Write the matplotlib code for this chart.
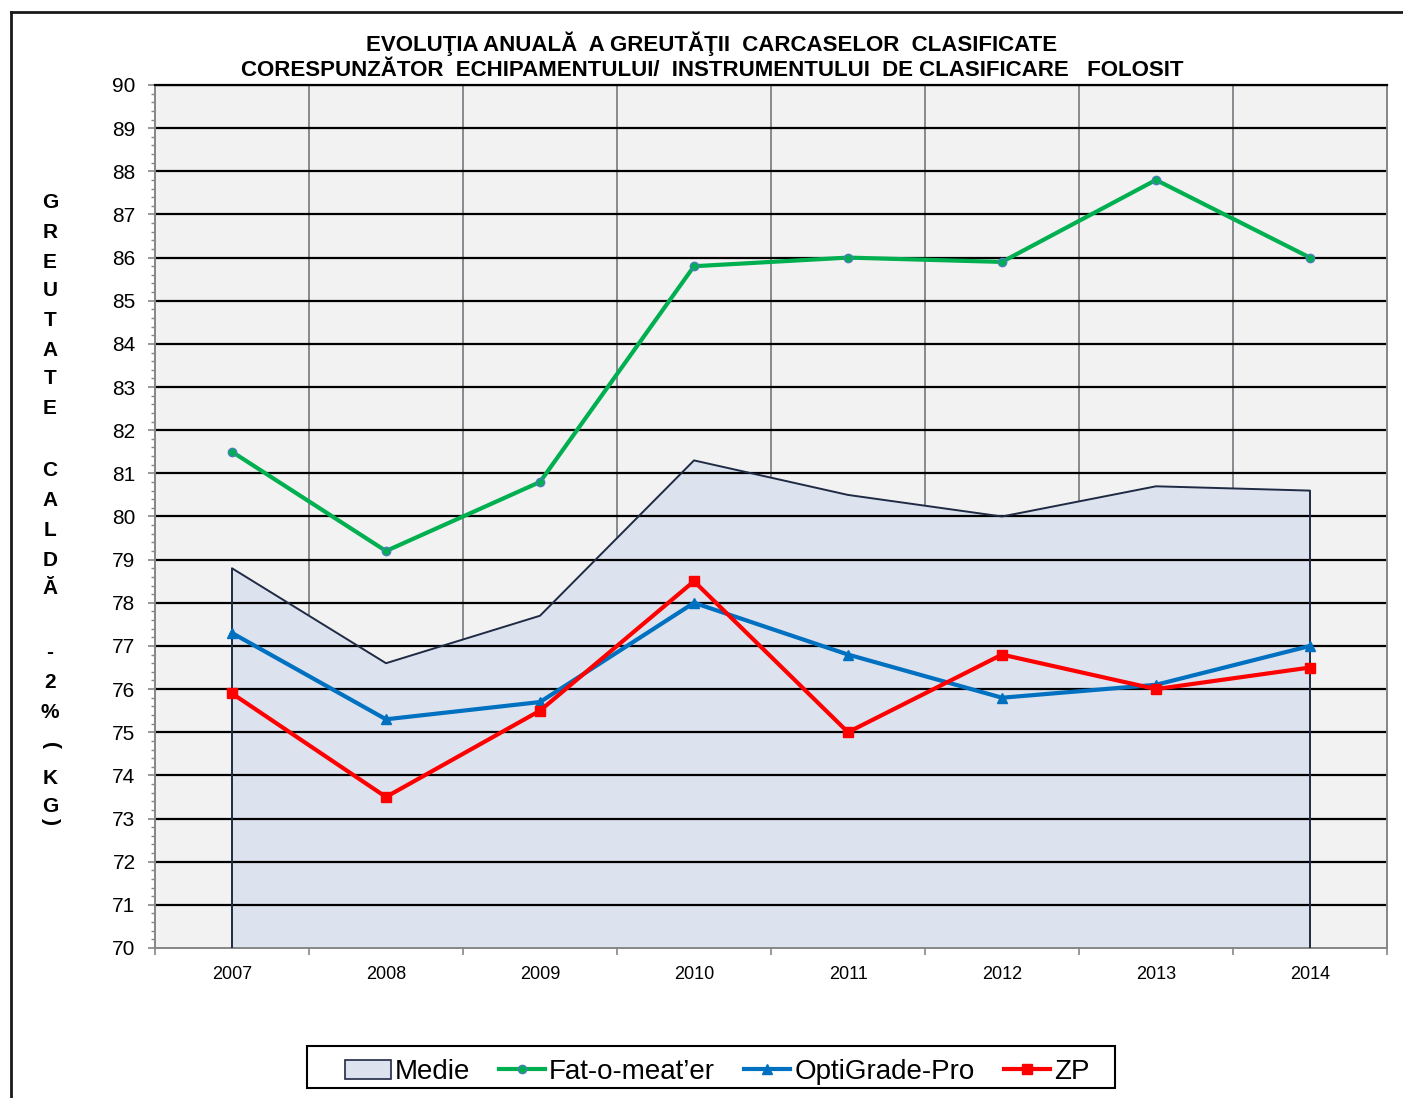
import matplotlib
matplotlib.use("Agg")
import matplotlib.pyplot as plt
from matplotlib.patches import Patch, Rectangle
from matplotlib.lines import Line2D
from matplotlib.ticker import MultipleLocator, FixedLocator, NullFormatter
import numpy as np

plt.rcParams['font.family'] = ['Liberation Sans', 'DejaVu Sans']

years = ['2007', '2008', '2009', '2010', '2011', '2012', '2013', '2014']
medie = [78.8, 76.6, 77.7, 81.3, 80.5, 80.0, 80.7, 80.6]
fat_o_meater = [81.5, 79.2, 80.8, 85.8, 86.0, 85.9, 87.8, 86.0]
optigrade = [77.3, 75.3, 75.7, 78.0, 76.8, 75.8, 76.1, 77.0]
zp = [75.9, 73.5, 75.5, 78.5, 75.0, 76.8, 76.0, 76.5]

title_text = ("EVOLUŢIA ANUALĂ  A GREUTĂŢII  CARCASELOR  CLASIFICATE\n"
              "CORESPUNZĂTOR  ECHIPAMENTULUI/  INSTRUMENTULUI  DE CLASIFICARE   FOLOSIT")
ylabel_chars = ['G', 'R', 'E', 'U', 'T', 'A', 'T', 'E', 'C', 'A', 'L', 'D', 'Ă',
                '-', '2', '%', 'K', 'G']
ylabel_rows = [203, 233, 262, 291, 321, 350, 379, 409, 471, 500, 530, 560, 588,
               652, 682, 712, 778, 807]

W, H = 1403, 1098
fig = plt.figure(figsize=(W / 100, H / 100), dpi=100)
fig.patch.set_facecolor('white')

ax = fig.add_axes([155 / W, 1 - 948 / H, (1387 - 155) / W, (948 - 85) / H])
ax.set_facecolor('#F2F2F2')

x = np.arange(len(years))
ymin, ymax = 70, 90

ax.fill_between(x, ymin, medie, facecolor='#DCE3EF', edgecolor='none', zorder=1.5)
ax.plot(np.concatenate([[x[0]], x, [x[-1]]]), np.concatenate([[ymin], medie, [ymin]]),
        color='#1F2A44', lw=1.4, zorder=2.6)

ax.plot(x, fat_o_meater, color='#00B050', lw=3.0, marker='o', ms=6,
        mfc='#00B050', mec='#4A7EBB', mew=1.0, zorder=4)
ax.plot(x, optigrade, color='#0070C0', lw=3.0, marker='^', ms=7,
        mfc='#0070C0', mec='#0070C0', zorder=4)
ax.plot(x, zp, color='#FF0000', lw=3.0, marker='s', ms=6.5,
        mfc='#FF0000', mec='#FF0000', zorder=5)

ax.set_xlim(-0.5, len(years) - 0.5)
ax.set_ylim(ymin, ymax)

ax.xaxis.set_major_locator(FixedLocator(np.arange(-0.5, len(years), 1.0)))
ax.xaxis.set_major_formatter(NullFormatter())
ax.xaxis.set_minor_locator(FixedLocator(x))
ax.set_xticklabels(years, minor=True)
ax.tick_params(axis='x', which='major', length=5, width=1.2, color='#868686', direction='out')
ax.tick_params(axis='x', which='minor', length=0, pad=13, labelsize=13)

ax.yaxis.set_major_locator(MultipleLocator(1))
ax.yaxis.set_minor_locator(MultipleLocator(0.2))
ax.tick_params(axis='y', which='major', length=5, width=1.2, color='#868686',
               direction='out', labelsize=15, pad=9)
ax.tick_params(axis='y', which='minor', length=3, width=1.0, color='#868686', direction='out')

ax.grid(False)
for v in range(ymin + 1, ymax + 1):
    ax.axhline(v, color='black', lw=1.6, zorder=2.5)
for b in np.arange(0.5, len(years) - 1, 1.0):
    ax.axvline(b, color='#878B90', lw=1.4, zorder=1.2)

for side in ['left', 'bottom', 'right']:
    ax.spines[side].set_color('#868686')
    ax.spines[side].set_linewidth(1.4)
ax.spines['top'].set_color('black')
ax.spines['top'].set_linewidth(1.6)

fig.text(712 / W, 1 - 56 / H, title_text, ha='center', va='center',
         fontsize=16, fontweight='bold', linespacing=1.28, multialignment='center')

for ch, yp in zip(ylabel_chars, ylabel_rows):
    fig.text(50 / W, 1 - yp / H, ch, ha='center', va='center', fontsize=15, fontweight='bold')
fig.text(50 / W, 1 - 745 / H, '(', ha='center', va='center', fontsize=15,
         fontweight='bold', rotation=-90)
fig.text(50 / W, 1 - 822 / H, ')', ha='center', va='center', fontsize=15,
         fontweight='bold', rotation=-90)

fig.add_artist(Line2D([11 / W, 11 / W], [0, 1 - 12 / H], transform=fig.transFigure,
                      color='#1A1A1A', lw=2))
fig.add_artist(Line2D([11 / W, 1], [1 - 12 / H, 1 - 12 / H], transform=fig.transFigure,
                      color='#1A1A1A', lw=2))

handles = [
    Patch(facecolor='#DCE3EF', edgecolor='#1F2A44', lw=1.2, label='Medie'),
    Line2D([], [], color='#00B050', lw=3, marker='o', ms=6, mfc='#00B050',
           mec='#4A7EBB', label='Fat-o-meat’er'),
    Line2D([], [], color='#0070C0', lw=3, marker='^', ms=7, label='OptiGrade-Pro'),
    Line2D([], [], color='#FF0000', lw=3, marker='s', ms=6.5, label='ZP'),
]
leg = fig.legend(handles=handles, loc='center', bbox_to_anchor=(717 / W, 1 - 1072 / H),
                 ncol=4, fontsize=20, frameon=False,
                 handlelength=1.65, handletextpad=0.15, columnspacing=1.05,
                 borderpad=0.2, numpoints=1, borderaxespad=0)
fig.add_artist(Rectangle((307 / W, 1 - 1088 / H), (1115 - 307) / W, (1088 - 1046) / H,
                         transform=fig.transFigure, facecolor='none',
                         edgecolor='black', lw=1.5))

fig.savefig('out.png', dpi=100)
